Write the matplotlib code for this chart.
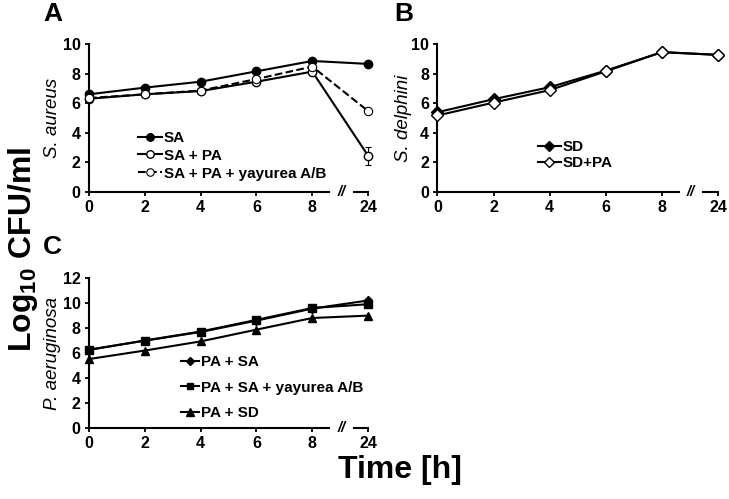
import matplotlib
matplotlib.use("Agg")
import matplotlib.pyplot as plt

plt.rcParams['font.family'] = ['Liberation Sans', 'DejaVu Sans']
plt.rcParams['mathtext.fontset'] = 'custom'
plt.rcParams['mathtext.rm'] = 'Liberation Sans'
plt.rcParams['mathtext.bf'] = 'Liberation Sans:bold'

# time points (last one after the axis break)
time_labels = ["0", "2", "4", "6", "8", "24"]
pos = list(range(len(time_labels)))

# A: S. aureus
sa = [6.6, 7.05, 7.45, 8.15, 8.85, 8.65]
sa_pa = [6.3, 6.6, 6.82, 7.45, 8.13, 2.45]
sa_pa_err = [0, 0, 0, 0, 0, 0.6]
sa_pa_yay = [6.35, 6.6, 6.85, 7.63, 8.47, 5.47]

# B: S. delphini
sd = [5.39, 6.27, 7.08, 8.2, 9.44, 9.26]
sd_pa = [5.17, 6.04, 6.88, 8.15, 9.45, 9.26]

# C: P. aeruginosa
pa_sa = [6.27, 6.99, 7.68, 8.59, 9.55, 10.2]
pa_sa_yay = [6.25, 7.0, 7.72, 8.65, 9.6, 9.9]
pa_sd = [5.52, 6.2, 6.93, 7.87, 8.8, 8.99]

fig = plt.figure(figsize=(7.29, 4.99), dpi=100)
axA = fig.add_axes([0.122, 0.615, 0.383, 0.297])
axB = fig.add_axes([0.600, 0.615, 0.385, 0.297])
axC = fig.add_axes([0.122, 0.142, 0.383, 0.301])


def style_axis(ax, ymax, ystep, ylabel, lx):
    ax.set_xlim(0, 5)
    ax.set_ylim(0, ymax)
    ax.set_yticks(range(0, ymax + 1, ystep))
    ax.set_xticks(pos)
    ax.set_xticklabels(time_labels)
    for s in ['top', 'right', 'bottom']:
        ax.spines[s].set_visible(False)
    ax.spines['left'].set_linewidth(1.5)
    ax.tick_params(direction='out', length=3, width=1.3, labelsize=11.5, pad=3)
    for t in ax.get_xticklabels() + ax.get_yticklabels():
        t.set_fontweight('bold')
    ax.set_ylabel(ylabel, fontsize=13.5, style='italic')
    ax.yaxis.set_label_coords(lx, 0.5)
    # broken x axis: 0..8  //  24
    tr = ax.get_xaxis_transform()
    ax.plot([0, 4.3], [0, 0], color='black', lw=1.5, transform=tr, clip_on=False)
    ax.plot([4.74, 5.0], [0, 0], color='black', lw=1.5, transform=tr, clip_on=False)
    ax.text(4.52, 0, "//", transform=tr, ha='center', va='center',
            fontsize=10.5, fontweight='bold', style='italic')


style_axis(axA, 10, 2, "S. aureus", -0.10)
style_axis(axB, 10, 2, "S. delphini", -0.09)
style_axis(axC, 12, 2, "P. aeruginosa", -0.10)

kw = dict(color='black', lw=1.5, clip_on=False, zorder=3)
leg_font = dict(weight='bold', size=11)

hA1, = axA.plot(pos, sa, marker='o', ms=6, mfc='black', mec='black', label='SA', **kw)
axA.errorbar(pos, sa_pa, yerr=sa_pa_err, fmt='none', ecolor='black',
             capsize=2, elinewidth=0.8, capthick=0.8, clip_on=False)
hA2, = axA.plot(pos, sa_pa, marker='o', ms=6, mfc='white', mec='black', label='SA + PA', **kw)
hA3, = axA.plot(pos, sa_pa_yay, marker='o', ms=6, mfc='white', mec='black', mew=0.8,
                ls='--', label='SA + PA + yayurea A/B', **kw)
axA.legend(handles=[hA1, hA2, hA3], loc='center left', bbox_to_anchor=(0.175, 0.245),
           frameon=False, prop=leg_font, handlelength=1.6, handletextpad=0.1,
           labelspacing=0.25, borderpad=0, borderaxespad=0, markerscale=0.9)

axB.plot(pos, sd, marker='D', ms=6.5, mfc='black', mec='black', label='SD', **kw)
axB.plot(pos, sd_pa, marker='D', ms=6.5, mfc='white', mec='black', mew=1, label='SD+PA', **kw)
axB.legend(loc='center left', bbox_to_anchor=(0.358, 0.25), frameon=False,
           prop=leg_font, handlelength=1.5, handletextpad=0.1,
           labelspacing=0.15, borderpad=0, borderaxespad=0, markerscale=0.85)

axC.plot(pos, pa_sa, marker='D', ms=4, mfc='black', mec='black', label='PA + SA', **kw)
axC.plot(pos, pa_sa_yay, marker='s', ms=5.5, mfc='black', mec='black',
         label='PA + SA + yayurea A/B', **kw)
axC.plot(pos, pa_sd, marker='^', ms=6, mfc='black', mec='black', label='PA + SD', **kw)
axC.legend(loc='center left', bbox_to_anchor=(0.33, 0.27), frameon=False,
           prop=leg_font, handlelength=1.2, handletextpad=0.1,
           labelspacing=0.75, borderpad=0, borderaxespad=0, markerscale=0.9)

fig.text(0.072, 0.971, "A", fontsize=19, fontweight='bold', ha='center', va='center')
fig.text(0.554, 0.971, "B", fontsize=19, fontweight='bold', ha='center', va='center')
fig.text(0.072, 0.505, "C", fontsize=19, fontweight='bold', ha='center', va='center')

fig.text(0.031, 0.50, r"Log$_{\mathbf{10}}$ CFU/ml", fontsize=23, fontweight='bold',
         rotation=90, ha='center', va='center')
fig.text(0.549, 0.058, "Time [h]", fontsize=23, fontweight='bold', ha='center', va='center')

fig.savefig("out.png", dpi=100)
